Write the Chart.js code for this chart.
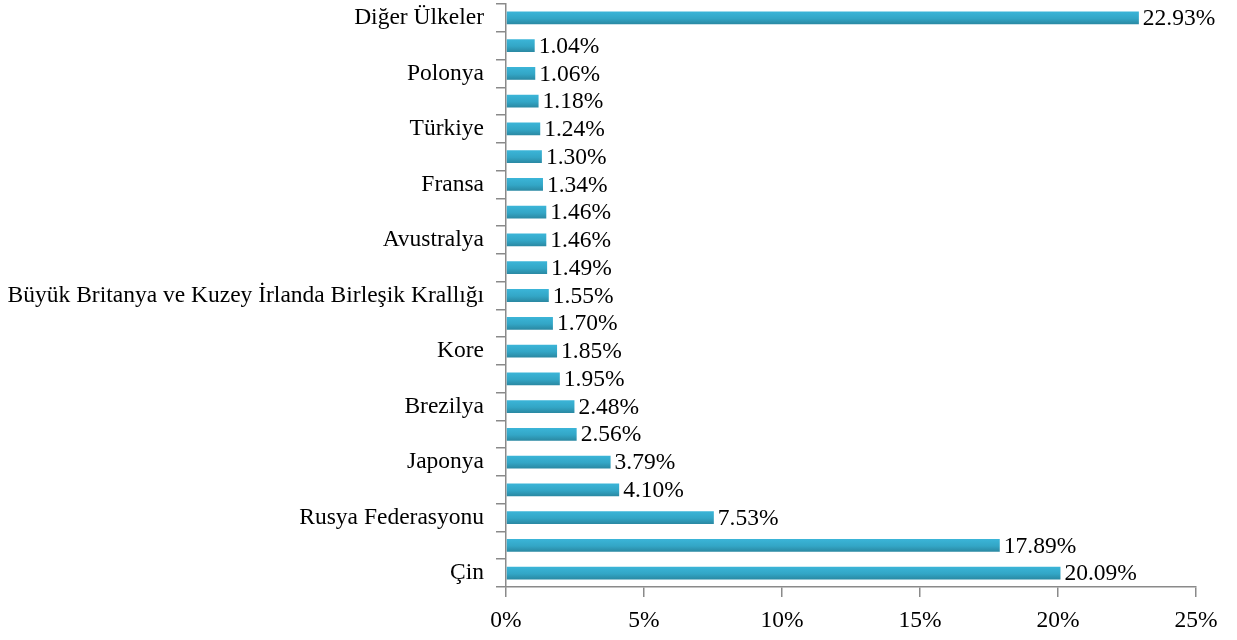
<!DOCTYPE html>
<html lang="tr">
<head>
    <meta charset="UTF-8">
    <title>Ülkeler</title>
    <style>
        body {
            margin: 0;
            background: #ffffff;
        }
        #wrap {
            width: 1237px;
            height: 640px;
        }
    </style>
</head>
<body>
<div id="wrap">
    <canvas id="chart" width="1237" height="640"></canvas>
</div>

<script src="https://cdn.jsdelivr.net/npm/chart.js"></script>
<script>
    // Kategoriler (yukarıdan aşağıya); boş olanlar grafikte yazılmıyor
    const categories = [
        'Diğer Ülkeler', '', 'Polonya', '', 'Türkiye', '', 'Fransa', '',
        'Avustralya', '', 'Büyük Britanya ve Kuzey İrlanda Birleşik Krallığı', '',
        'Kore', '', 'Brezilya', '', 'Japonya', '', 'Rusya Federasyonu', '', 'Çin'
    ];
    const shares = [
        22.93, 1.04, 1.06, 1.18, 1.24, 1.30, 1.34, 1.46, 1.46, 1.49, 1.55,
        1.70, 1.85, 1.95, 2.48, 2.56, 3.79, 4.10, 7.53, 17.89, 20.09
    ];
    const xTicks = [0, 5, 10, 15, 20, 25];

    const FONT = 'Liberation Serif';
    const FONT_SIZE = 23.5;
    const AXIS = '#8a8a8a';
    const BAR_PCT = 0.46;

    // gradient dla każdego słupka osobno (scriptable, więc opcje nie są współdzielone)
    function barColor(c) {
        const y = c.chart.scales.y;
        if (!y || c.dataIndex === undefined) return '#33a6c6';
        const cy = y.getPixelForValue(c.dataIndex);
        const h = (y.bottom - y.top) / categories.length * BAR_PCT / 2;
        if (!Number.isFinite(cy) || !Number.isFinite(h) || h <= 0) return '#33a6c6';
        const g = c.chart.ctx.createLinearGradient(0, cy - h, 0, cy + h);
        g.addColorStop(0, '#3bb5d8');
        g.addColorStop(0.55, '#33a6c6');
        g.addColorStop(1, '#2a88a2');
        return g;
    }

    // etykiety wartości
    const valueLabels = {
        id: 'valueLabels',
        afterDatasetsDraw(chart) {
            const ctx = chart.ctx;
            ctx.save();
            ctx.font = FONT_SIZE + 'px "' + FONT + '"';
            ctx.fillStyle = '#000';
            ctx.textAlign = 'left';
            ctx.textBaseline = 'middle';
            chart.getDatasetMeta(0).data.forEach((bar, i) => {
                ctx.fillText(shares[i].toFixed(2) + '%', bar.x + 4, bar.y + 1);
            });
            ctx.restore();
        }
    };

    new Chart(document.getElementById('chart').getContext('2d'), {
        type: 'bar',
        data: {
            labels: categories,
            datasets: [{
                data: shares,
                backgroundColor: barColor,
                borderWidth: 0,
                barPercentage: BAR_PCT,
                categoryPercentage: 1
            }]
        },
        options: {
            indexAxis: 'y',
            responsive: false,
            animation: false,
            layout: { padding: { top: 4, right: 41, left: 0, bottom: 0 } },
            plugins: {
                legend: { display: false },
                tooltip: { enabled: false }
            },
            scales: {
                x: {
                    min: 0,
                    max: 25,
                    afterBuildTicks: scale => {
                        scale.ticks = xTicks.map(v => ({ value: v }));
                    },
                    afterFit: scale => {
                        scale.height = 53;
                        scale.paddingLeft = 0;
                        scale.paddingRight = 0;
                    },
                    border: { color: AXIS, width: 1.5 },
                    grid: { drawOnChartArea: false, color: AXIS, lineWidth: 1.5, tickLength: 10 },
                    ticks: {
                        color: '#000',
                        font: { family: FONT, size: FONT_SIZE },
                        padding: 10,
                        callback: v => v + '%'
                    }
                },
                y: {
                    afterFit: scale => {
                        scale.width = 506;
                        scale.paddingTop = 0;
                        scale.paddingBottom = 0;
                    },
                    border: { color: AXIS, width: 1.5 },
                    grid: { drawOnChartArea: false, offset: true, color: AXIS, lineWidth: 1.5, tickLength: 10 },
                    ticks: {
                        autoSkip: false,
                        color: '#000',
                        font: { family: FONT, size: FONT_SIZE },
                        padding: 12
                    }
                }
            }
        },
        plugins: [valueLabels]
    });
</script>
</body>
</html>
